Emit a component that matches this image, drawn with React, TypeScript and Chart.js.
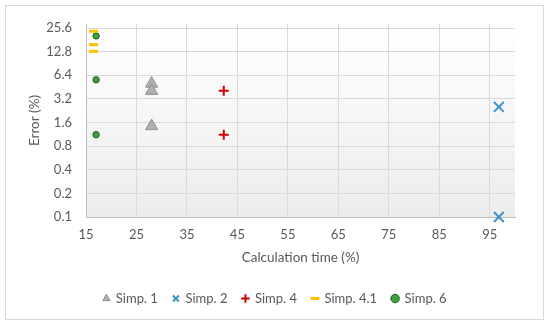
import React, { useEffect, useRef } from "react";
import { Chart, registerables } from "chart.js";

Chart.register(...registerables);

const xTicks = [15, 25, 35, 45, 55, 65, 75, 85, 95];
const yTicks = [0.1, 0.2, 0.4, 0.8, 1.6, 3.2, 6.4, 12.8, 25.6];

const simp1X = [28, 28, 28];
const simp1Y = [5.0, 4.05, 1.44];
const simp2X = [96.8, 96.8];
const simp2Y = [2.53, 0.1];
const simp4X = [42.3, 42.3];
const simp4Y = [4.05, 1.12];
const simp41X = [16.5, 16.5, 16.5];
const simp41Y = [23.3, 15.7, 12.9];
const simp6X = [17, 17, 17];
const simp6Y = [20.3, 5.6, 1.12];

const pts = (xs: number[], ys: number[]) => xs.map((x, i) => ({ x, y: ys[i] }));

const TEXT = "#595959";
const FONT = "Lato";

const bgPlugin = {
  id: "bgPlugin",
  beforeDraw(chart: any) {
    const { ctx, chartArea: a, width, height } = chart;
    ctx.save();
    ctx.fillStyle = "#ffffff";
    ctx.fillRect(0, 0, width, height);
    const g = ctx.createLinearGradient(0, a.top, 0, a.bottom);
    g.addColorStop(0, "#ffffff");
    g.addColorStop(1, "#ececec");
    ctx.fillStyle = g;
    ctx.fillRect(a.left, a.top, a.right - a.left, a.bottom - a.top);
    ctx.strokeStyle = "#d9d9d9";
    ctx.lineWidth = 1;
    ctx.strokeRect(5.5, 5.5, 538, 314);
    ctx.restore();
  },
};

export default function App() {
  const ref = useRef<HTMLCanvasElement | null>(null);
  useEffect(() => {
    document.body.style.margin = "0";
    Chart.defaults.font.family = FONT;
    Chart.defaults.color = TEXT;
    const chart = new Chart(ref.current!, {
      type: "scatter",
      data: {
        datasets: [
          {
            label: "Simp. 1",
            data: pts(simp1X, simp1Y),
            pointStyle: "triangle",
            pointRadius: 7,
            backgroundColor: "#b0b0b0",
            borderColor: "#8f8f8f",
            borderWidth: 1,
            clip: false,
          },
          {
            label: "Simp. 2",
            data: pts(simp2X, simp2Y),
            pointStyle: "crossRot",
            pointRadius: 7,
            backgroundColor: "#3E92CC",
            borderColor: "#3E92CC",
            borderWidth: 2,
            clip: false,
          },
          {
            label: "Simp. 4",
            data: pts(simp4X, simp4Y),
            pointStyle: "cross",
            pointRadius: 5,
            backgroundColor: "#D00000",
            borderColor: "#D00000",
            borderWidth: 2,
            clip: false,
          },
          {
            label: "Simp. 4.1",
            data: pts(simp41X, simp41Y),
            pointStyle: "line",
            pointRadius: 4.5,
            backgroundColor: "#FFC000",
            borderColor: "#FFC000",
            borderWidth: 3,
            clip: false,
          },
          {
            label: "Simp. 6",
            data: pts(simp6X, simp6Y),
            pointStyle: "circle",
            pointRadius: 3.2,
            backgroundColor: "#3DA23D",
            borderColor: "#1E5E1E",
            borderWidth: 1,
            clip: false,
          },
        ],
      },
      options: {
        animation: false,
        responsive: false,
        layout: { padding: { left: 5, right: 5, top: 24, bottom: 12 } },
        plugins: {
          tooltip: { enabled: false },
          legend: {
            position: "bottom",
            labels: {
              usePointStyle: true,
              boxWidth: 6,
              boxHeight: 6,
              padding: 15,
              color: TEXT,
              font: { size: 13, family: FONT },
            },
          },
        },
        scales: {
          x: {
            type: "linear",
            min: 15,
            max: 100,
            afterBuildTicks: (s: any) => {
              s.ticks = xTicks.map((v) => ({ value: v }));
            },
            afterFit: (s: any) => {
              s.height = 60;
            },
            grid: { color: "#d9d9d9", drawTicks: false },
            border: { color: "#bfbfbf" },
            ticks: { padding: 10, color: TEXT, font: { size: 13, family: FONT } },
            title: {
              display: true,
              text: "Calculation time (%)",
              color: TEXT,
              font: { size: 13.5, family: FONT },
              padding: { top: 0, bottom: 11 },
            },
          },
          y: {
            type: "logarithmic",
            min: 0.1,
            max: 28.8,
            afterBuildTicks: (s: any) => {
              s.ticks = yTicks.map((v) => ({ value: v }));
            },
            afterFit: (s: any) => {
              s.width = 81;
            },
            grid: { color: "#d9d9d9", drawTicks: false },
            border: { color: "#bfbfbf" },
            ticks: {
              padding: 14,
              color: TEXT,
              font: { size: 13, family: FONT },
              callback: (v: any) => String(v),
            },
            title: {
              display: true,
              text: "Error (%)",
              color: TEXT,
              font: { size: 13.5, family: FONT },
              padding: { top: 22, bottom: 0 },
            },
          },
          yRight: {
            type: "linear",
            position: "right",
            display: true,
            grid: { display: false, drawTicks: false },
            border: { display: false },
            ticks: { display: false },
            afterFit: (s: any) => {
              s.width = 30;
            },
          },
        },
      },
      plugins: [bgPlugin],
    });
    return () => chart.destroy();
  }, []);
  return (
    <div style={{ width: 550, height: 327 }}>
      <canvas ref={ref} width={550} height={327} style={{ display: "block" }} />
    </div>
  );
}
